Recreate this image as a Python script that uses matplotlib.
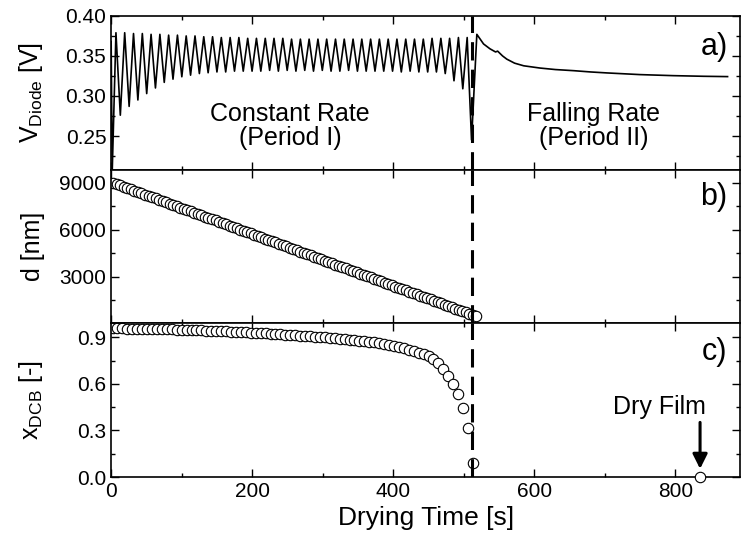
import numpy as np
import matplotlib
matplotlib.use('Agg')
from matplotlib import pyplot as plt
from matplotlib.ticker import MultipleLocator, FormatStrFormatter

plt.rcParams['font.family'] = ['Liberation Sans', 'DejaVu Sans']
plt.rcParams['mathtext.fontset'] = 'custom'
plt.rcParams['mathtext.rm'] = 'Liberation Sans'
plt.rcParams['mathtext.default'] = 'regular'

# a) diode voltage: start, oscillation peaks/troughs, then falling-rate decay
start_t = [0, 1.5]
start_v = [0.368, 0.205]
peak_t = [6.8, 19.2, 31.7, 44.2, 56.6, 69.1, 81.5, 94.0, 106.4, 118.9, 131.3,
          143.8, 156.2, 168.7, 181.1, 193.6, 206.0, 218.5, 230.9, 243.4, 255.8,
          268.3, 280.7, 293.2, 305.6, 318.1, 330.5, 343.0, 355.4, 367.9, 380.3,
          392.8, 405.2, 417.7, 430.1, 442.6, 455.0, 467.5, 479.9, 492.4, 504.8]
peak_v = [0.379, 0.379, 0.378, 0.378, 0.377, 0.377, 0.376, 0.376, 0.375, 0.375,
          0.374, 0.374, 0.373, 0.373, 0.373, 0.372, 0.372, 0.372, 0.372, 0.372,
          0.371, 0.371, 0.371, 0.371, 0.371, 0.371, 0.371, 0.371, 0.371, 0.371,
          0.371, 0.371, 0.371, 0.371, 0.371, 0.371, 0.372, 0.372, 0.372, 0.373,
          0.373]
trough_t = [13.0, 25.5, 37.9, 50.4, 62.8, 75.3, 87.7, 100.2, 112.6, 125.1, 137.5,
            150.0, 162.4, 174.9, 187.3, 199.8, 212.2, 224.7, 237.1, 249.6, 262.0,
            274.5, 286.9, 299.4, 311.8, 324.3, 336.7, 349.2, 361.6, 374.1, 386.5,
            399.0, 411.4, 423.9, 436.3, 448.8, 461.2, 473.7, 486.1, 498.6, 511.0]
trough_v = [0.276, 0.287, 0.295, 0.303, 0.310, 0.317, 0.321, 0.324, 0.326, 0.328,
            0.329, 0.330, 0.330, 0.331, 0.331, 0.331, 0.331, 0.332, 0.331, 0.332,
            0.331, 0.332, 0.331, 0.332, 0.331, 0.331, 0.332, 0.331, 0.331, 0.331,
            0.331, 0.331, 0.330, 0.331, 0.330, 0.330, 0.330, 0.328, 0.319, 0.309,
            0.245]
decay_t = [518.5, 528, 537, 545, 548, 555, 561, 572, 585, 608, 630, 656, 680,
           703, 750, 797, 840, 874]
decay_v = [0.377, 0.365, 0.359, 0.355, 0.356, 0.350, 0.346, 0.341, 0.3377,
           0.3349, 0.333, 0.3316, 0.330, 0.3288, 0.3267, 0.3254, 0.3246, 0.3242]

# b) film thickness
d_t = [3, 8, 13, 18, 23, 28, 33, 38, 43, 48, 53, 58, 63, 68, 73, 78, 83, 88, 93,
       98, 103, 108, 113, 118, 123, 128, 133, 138, 143, 148, 153, 158, 163, 168,
       173, 178, 183, 188, 193, 198, 203, 208, 213, 218, 223, 228, 233, 238, 243,
       248, 253, 258, 263, 268, 273, 278, 283, 288, 293, 298, 303, 308, 313, 318,
       323, 328, 333, 338, 343, 348, 353, 358, 363, 368, 373, 378, 383, 388, 393,
       398, 403, 408, 413, 418, 423, 428, 433, 438, 443, 448, 453, 458, 463, 468,
       473, 478, 483, 488, 493, 498, 503, 508, 513, 518]
d_nm = [9000, 8917, 8834, 8751, 8668, 8585, 8502, 8419, 8336, 8253, 8170,
        8087, 8004, 7921, 7838, 7755, 7672, 7589, 7506, 7423, 7340,
        7257, 7174, 7091, 7008, 6925, 6842, 6759, 6676, 6593, 6510,
        6427, 6344, 6261, 6178, 6095, 6012, 5929, 5846, 5763, 5680,
        5597, 5514, 5431, 5348, 5265, 5182, 5099, 5016, 4933, 4850,
        4767, 4684, 4601, 4518, 4435, 4352, 4269, 4186, 4103, 4020,
        3937, 3854, 3771, 3688, 3605, 3522, 3439, 3356, 3273, 3190,
        3107, 3024, 2941, 2858, 2775, 2692, 2609, 2526, 2443, 2360,
        2277, 2194, 2111, 2028, 1945, 1862, 1779, 1696, 1613, 1530,
        1447, 1364, 1281, 1198, 1115, 1032, 949, 866, 783, 700,
        617, 534, 451]

# c) solvent (DCB) mass fraction
x_t = [2, 9, 16, 23, 30, 37, 44, 51, 58, 65, 72, 79, 86, 93, 100, 107, 114, 121,
       128, 135, 142, 149, 156, 163, 170, 177, 184, 191, 198, 205, 212, 219, 226,
       233, 240, 247, 254, 261, 268, 275, 282, 289, 296, 303, 310, 317, 324, 331,
       338, 345, 352, 359, 366, 373, 380, 387, 394, 401, 408, 415, 422, 429, 436,
       443, 450, 457, 464, 471, 478, 485, 492, 499, 506, 513]
x_dcb = [0.957, 0.957, 0.957, 0.956, 0.956, 0.956, 0.955, 0.955, 0.954, 0.954,
         0.953, 0.952, 0.951, 0.950, 0.949, 0.948, 0.947, 0.946, 0.945, 0.944,
         0.943, 0.942, 0.940, 0.939, 0.937, 0.936, 0.934, 0.932, 0.931, 0.929,
         0.927, 0.925, 0.923, 0.921, 0.919, 0.917, 0.915, 0.913, 0.911, 0.909,
         0.906, 0.904, 0.902, 0.899, 0.897, 0.894, 0.891, 0.888, 0.885, 0.882,
         0.878, 0.875, 0.871, 0.867, 0.862, 0.857, 0.851, 0.845, 0.838, 0.830,
         0.821, 0.812, 0.802, 0.791, 0.778, 0.760, 0.733, 0.698, 0.654, 0.600,
         0.535, 0.448, 0.317, 0.093]
dry_t = [835]
dry_x = [0.0]

t_switch = 511.5

osc_t = np.column_stack([peak_t, trough_t]).ravel()
osc_v = np.column_stack([peak_v, trough_v]).ravel()
trace_t = np.concatenate([start_t, osc_t, decay_t])
trace_v = np.concatenate([start_v, osc_v, decay_v])

fig, axes = plt.subplots(3, 1, sharex=True, figsize=(7.41, 5.49), dpi=100)
fig.subplots_adjust(left=0.15, right=0.999, top=0.971, bottom=0.131, hspace=0)
ax1, ax2, ax3 = axes

ax1.plot(trace_t, trace_v, color='k', lw=1.2)
ax2.plot(d_t, d_nm, 'o', ms=7.5, mfc='white', mec='k', mew=0.8)
ax3.plot(x_t, x_dcb, 'o', ms=7.5, mfc='white', mec='k', mew=0.8)
ax3.plot(dry_t, dry_x, 'o', ms=7.5, mfc='white', mec='k', mew=0.8, clip_on=False, zorder=5)

for ax in axes:
    ax.axvline(t_switch, color='k', lw=2.2, dashes=(6, 3), zorder=4)
    ax.tick_params(which='both', direction='in', top=True, right=True, labelsize=15, width=1)
    ax.tick_params(which='major', length=6)
    ax.tick_params(which='minor', length=3)
    ax.xaxis.set_major_locator(MultipleLocator(200))
    ax.xaxis.set_minor_locator(MultipleLocator(100))
    for s in ax.spines.values():
        s.set_linewidth(1.2)

ax1.set_xlim(0, 892)

ax1.set_ylim(0.208, 0.40)
ax1.yaxis.set_major_locator(MultipleLocator(0.05))
ax1.yaxis.set_minor_locator(MultipleLocator(0.025))
ax1.yaxis.set_major_formatter(FormatStrFormatter('%.2f'))
ax1.set_ylabel('V$_{Diode}$ [V]', fontsize=18)

ax2.set_ylim(0, 9850)
ax2.set_yticks([3000, 6000, 9000])
ax2.yaxis.set_minor_locator(MultipleLocator(1500))
ax2.set_ylabel('d [nm]', fontsize=18)

ax3.set_ylim(0, 0.99)
ax3.yaxis.set_major_locator(MultipleLocator(0.3))
ax3.yaxis.set_minor_locator(MultipleLocator(0.15))
ax3.yaxis.set_major_formatter(FormatStrFormatter('%.1f'))
ax3.set_ylabel('x$_{DCB}$ [-]', fontsize=18)
ax3.set_xlabel('Drying Time [s]', fontsize=19)

for ax in axes:
    ax.yaxis.set_label_coords(-0.105, 0.5)

ax1.text(254, 0.263, 'Constant Rate\n(Period I)', fontsize=18, ha='center', va='center', linespacing=1.0)
ax1.text(684, 0.263, 'Falling Rate\n(Period II)', fontsize=18, ha='center', va='center', linespacing=1.0)

for ax, lab, yy in [(ax1, 'a)', 0.795), (ax2, 'b)', 0.82), (ax3, 'c)', 0.815)]:
    ax.text(0.98, yy, lab, transform=ax.transAxes, fontsize=22, ha='right', va='center')

ax3.text(778, 0.45, 'Dry Film', fontsize=18, ha='center', va='center')
ax3.annotate('', xy=(835, 0.035), xytext=(835, 0.37),
             arrowprops=dict(arrowstyle='-|>', lw=2.2, color='k', mutation_scale=22))

fig.savefig('out.png', dpi=100)
